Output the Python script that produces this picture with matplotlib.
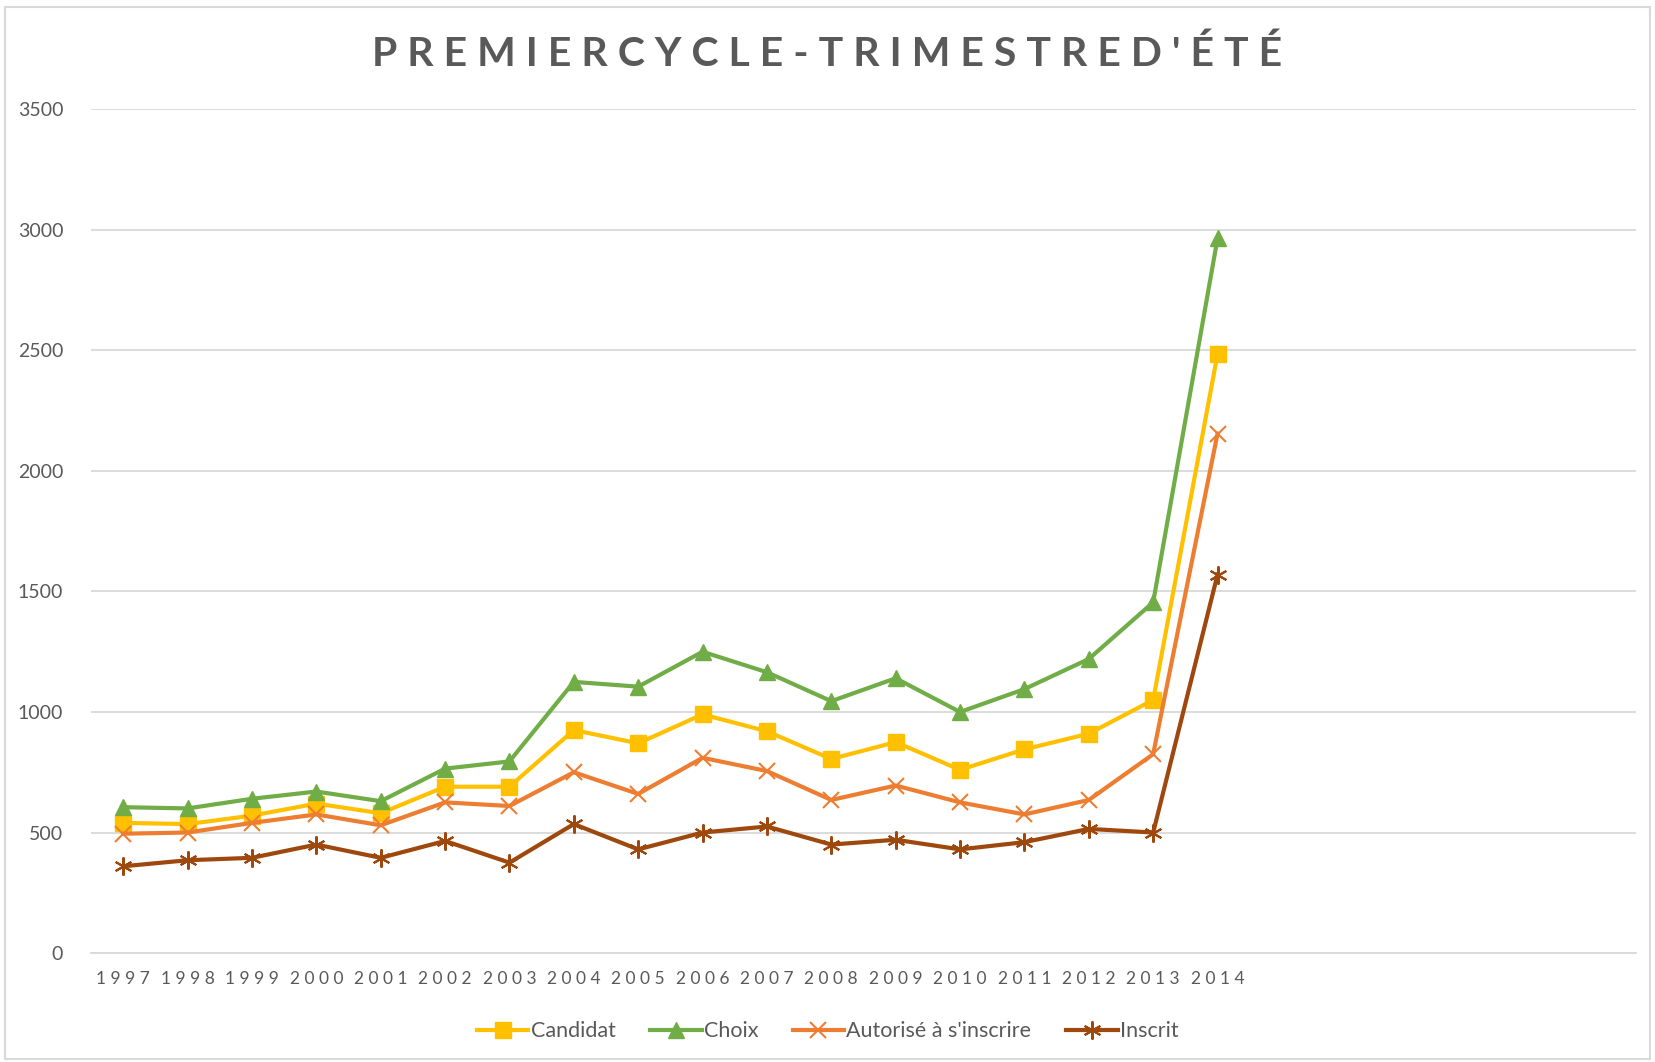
import matplotlib.pyplot as plt
from matplotlib.patches import Rectangle

plt.rcParams['font.family'] = ['Lato', 'DejaVu Sans']

annees = [str(a) for a in range(1997, 2015)]
n_slots = 24  # l'axe garde des categories vides apres 2014

candidat = [540, 535, 570, 620, 580, 690, 690, 925, 870, 990, 920, 805, 875, 760, 845, 910, 1050, 2485]
choix = [605, 600, 640, 670, 630, 765, 795, 1125, 1105, 1250, 1165, 1045, 1140, 1000, 1095, 1220, 1455, 2965]
autorise = [495, 500, 540, 575, 530, 625, 610, 750, 660, 810, 755, 635, 695, 625, 575, 635, 825, 2155]
inscrit = [360, 385, 395, 450, 395, 465, 375, 535, 430, 500, 525, 450, 470, 430, 460, 515, 500, 1570]

titre = "PREMIERCYCLE-TRIMESTRED'ÉTÉ"
gris = "#595959"

def main():
  fig = plt.figure(figsize=(16.55, 10.62), dpi=100)
  ax = fig.add_axes([0.055, 0.1026, 0.9335, 0.7944])
  fig.patches.append(Rectangle((0.003, 0.003), 0.994, 0.99, transform=fig.transFigure,
                               fill=False, edgecolor="#d9d9d9", linewidth=1.5))

  x = list(range(len(annees)))
  ax.plot(x, candidat, color="#ffc000", lw=3, marker="s", ms=11, label="Candidat")
  ax.plot(x, choix, color="#70ad47", lw=3, marker="^", ms=12, label="Choix")
  ax.plot(x, autorise, color="#ed7d31", lw=3, marker="x", ms=11, mew=1.5, label="Autorisé à s'inscrire")
  ax.plot(x, inscrit, color="#9e480e", lw=3, marker=(6, 2, 0), ms=13, mew=1.5, label="Inscrit")

  ax.set_xlim(-0.5, n_slots - 0.5)
  ax.set_ylim(0, 3500)
  ax.set_yticks(range(0, 3501, 500))
  ax.set_xticks(x)
  ax.set_xticklabels([" ".join(a) for a in annees], fontsize=12.5, color=gris)
  ax.tick_params(axis="y", labelsize=14, colors=gris, length=0, pad=20)
  ax.tick_params(axis="x", length=0, pad=13)
  ax.grid(axis="y", color="#d9d9d9", lw=1.3)
  ax.set_axisbelow(True)
  for s in ["top", "right", "left"]:
    ax.spines[s].set_visible(False)
  ax.spines["bottom"].set_color("#d9d9d9")
  ax.spines["bottom"].set_linewidth(1.3)

  fig.text(0.5, 0.949, " ".join(titre), ha="center", va="center", fontsize=29.5,
           fontweight="bold", color=gris)

  fig.legend(loc="center", bbox_to_anchor=(0.5, 0.029), ncol=4, frameon=False,
             fontsize=15.5, labelcolor=gris, handlelength=2.4, handletextpad=0.1,
             columnspacing=1.6)

  fig.savefig("out.png", dpi=100)

if __name__ == "__main__":
  main()
